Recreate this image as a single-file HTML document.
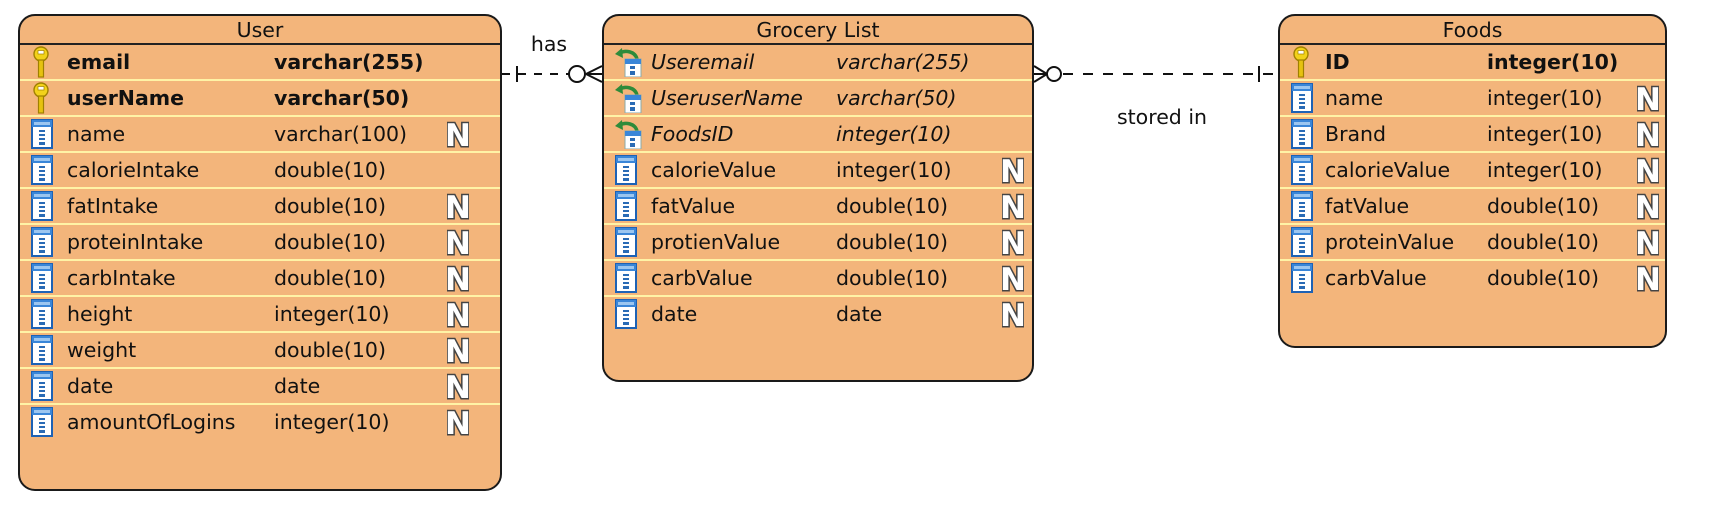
<!DOCTYPE html>
<html><head><meta charset="utf-8">
<style>
html,body{margin:0;padding:0;background:#fff;width:1730px;height:520px;overflow:hidden}
body{font-family:"DejaVu Sans","Liberation Sans",sans-serif;color:#111}
.box{position:absolute;background:#f3b57b;border:2px solid #1a1a1a;border-radius:17px;box-sizing:border-box;overflow:hidden}
.hd{height:27px;border-bottom:2px solid #222;text-align:center;font-size:20.5px;line-height:28px}
.row{position:relative;height:34px;border-bottom:2px solid #fff3a6}
.row.last{border-bottom:none}
.row span{position:absolute;top:0;line-height:34px;font-size:20.5px;white-space:nowrap}
.b span{font-weight:bold}
.i span.t{font-style:italic}
.ic{position:absolute;top:2px}
</style></head><body>
<svg width="0" height="0" style="position:absolute">
<defs>
<symbol id="key" viewBox="0 0 16 32">
<circle cx="8" cy="8" r="7" fill="#f2d21a" stroke="#a08000" stroke-width="1.4"/>
<rect x="5" y="4.5" width="6" height="3.5" fill="#fff" stroke="#a08000" stroke-width="0.7"/>
<rect x="5.5" y="14" width="5" height="17" fill="#e6c20f" stroke="#a08000" stroke-width="1.2"/>
</symbol>
<symbol id="col" viewBox="0 0 22 30">
<rect x="1" y="1" width="20" height="28" fill="#fff" stroke="#1d62b5" stroke-width="2"/>
<rect x="1" y="1" width="20" height="7" fill="#3a86d8"/>
<rect x="3" y="3" width="16" height="3" fill="#9cc6f0"/>
<rect x="8" y="11" width="6" height="2" fill="#2a6bb5"/>
<rect x="8" y="15" width="6" height="2" fill="#2a6bb5"/>
<rect x="8" y="19" width="6" height="2" fill="#2a6bb5"/>
<rect x="8" y="23" width="6" height="3" fill="#2a6bb5"/>
</symbol>
<symbol id="fk" viewBox="0 0 30 30">
<path d="M24 12 C22 4 12 3 7 6" fill="none" stroke="#2e8b3a" stroke-width="3.5"/>
<path d="M2 7 L9 1 L10 11 Z" fill="#2e8b3a"/>
<rect x="12" y="12" width="16" height="18" fill="#fff" stroke="#8aa" stroke-width="1"/>
<rect x="12" y="12" width="16" height="5" fill="#3a86d8"/>
<rect x="17" y="19" width="5" height="3" fill="#2a6bb5"/>
<rect x="17" y="24" width="5" height="4" fill="#2a6bb5"/>
</symbol>
<symbol id="n" viewBox="0 0 22 28">
<text x="11" y="26" text-anchor="middle" font-family="DejaVu Sans" font-weight="bold" font-size="31" fill="#fff" stroke="#444" stroke-width="3" paint-order="stroke">N</text>
</symbol>
</defs>
</svg>

<!-- User -->
<div class="box" style="left:18px;top:14px;width:484px;height:477px">
<div class="hd">User</div>
<div class="row b"><svg class="ic" style="left:13px;top:1px" width="16" height="32"><use href="#key"/></svg><span style="left:47px">email</span><span style="left:254px">varchar(255)</span></div>
<div class="row b"><svg class="ic" style="left:13px;top:1px" width="16" height="32"><use href="#key"/></svg><span style="left:47px">userName</span><span style="left:254px">varchar(50)</span></div>
<div class="row"><svg class="ic" style="left:11px" width="22" height="30"><use href="#col"/></svg><span style="left:47px">name</span><span style="left:254px">varchar(100)</span><svg class="ic" style="left:427px;top:3px" width="22" height="28"><use href="#n"/></svg></div>
<div class="row"><svg class="ic" style="left:11px" width="22" height="30"><use href="#col"/></svg><span style="left:47px">calorieIntake</span><span style="left:254px">double(10)</span></div>
<div class="row"><svg class="ic" style="left:11px" width="22" height="30"><use href="#col"/></svg><span style="left:47px">fatIntake</span><span style="left:254px">double(10)</span><svg class="ic" style="left:427px;top:3px" width="22" height="28"><use href="#n"/></svg></div>
<div class="row"><svg class="ic" style="left:11px" width="22" height="30"><use href="#col"/></svg><span style="left:47px">proteinIntake</span><span style="left:254px">double(10)</span><svg class="ic" style="left:427px;top:3px" width="22" height="28"><use href="#n"/></svg></div>
<div class="row"><svg class="ic" style="left:11px" width="22" height="30"><use href="#col"/></svg><span style="left:47px">carbIntake</span><span style="left:254px">double(10)</span><svg class="ic" style="left:427px;top:3px" width="22" height="28"><use href="#n"/></svg></div>
<div class="row"><svg class="ic" style="left:11px" width="22" height="30"><use href="#col"/></svg><span style="left:47px">height</span><span style="left:254px">integer(10)</span><svg class="ic" style="left:427px;top:3px" width="22" height="28"><use href="#n"/></svg></div>
<div class="row"><svg class="ic" style="left:11px" width="22" height="30"><use href="#col"/></svg><span style="left:47px">weight</span><span style="left:254px">double(10)</span><svg class="ic" style="left:427px;top:3px" width="22" height="28"><use href="#n"/></svg></div>
<div class="row"><svg class="ic" style="left:11px" width="22" height="30"><use href="#col"/></svg><span style="left:47px">date</span><span style="left:254px">date</span><svg class="ic" style="left:427px;top:3px" width="22" height="28"><use href="#n"/></svg></div>
<div class="row last"><svg class="ic" style="left:11px" width="22" height="30"><use href="#col"/></svg><span style="left:47px">amountOfLogins</span><span style="left:254px">integer(10)</span><svg class="ic" style="left:427px;top:3px" width="22" height="28"><use href="#n"/></svg></div>
</div>

<!-- Grocery List -->
<div class="box" style="left:602px;top:14px;width:432px;height:368px">
<div class="hd">Grocery List</div>
<div class="row i"><svg class="ic" style="left:9px" width="30" height="30"><use href="#fk"/></svg><span class="t" style="left:47px">Useremail</span><span class="t" style="left:232px">varchar(255)</span></div>
<div class="row i"><svg class="ic" style="left:9px" width="30" height="30"><use href="#fk"/></svg><span class="t" style="left:47px">UseruserName</span><span class="t" style="left:232px">varchar(50)</span></div>
<div class="row i"><svg class="ic" style="left:9px" width="30" height="30"><use href="#fk"/></svg><span class="t" style="left:47px">FoodsID</span><span class="t" style="left:232px">integer(10)</span></div>
<div class="row"><svg class="ic" style="left:11px" width="22" height="30"><use href="#col"/></svg><span style="left:47px">calorieValue</span><span style="left:232px">integer(10)</span><svg class="ic" style="left:398px;top:3px" width="22" height="28"><use href="#n"/></svg></div>
<div class="row"><svg class="ic" style="left:11px" width="22" height="30"><use href="#col"/></svg><span style="left:47px">fatValue</span><span style="left:232px">double(10)</span><svg class="ic" style="left:398px;top:3px" width="22" height="28"><use href="#n"/></svg></div>
<div class="row"><svg class="ic" style="left:11px" width="22" height="30"><use href="#col"/></svg><span style="left:47px">protienValue</span><span style="left:232px">double(10)</span><svg class="ic" style="left:398px;top:3px" width="22" height="28"><use href="#n"/></svg></div>
<div class="row"><svg class="ic" style="left:11px" width="22" height="30"><use href="#col"/></svg><span style="left:47px">carbValue</span><span style="left:232px">double(10)</span><svg class="ic" style="left:398px;top:3px" width="22" height="28"><use href="#n"/></svg></div>
<div class="row last"><svg class="ic" style="left:11px" width="22" height="30"><use href="#col"/></svg><span style="left:47px">date</span><span style="left:232px">date</span><svg class="ic" style="left:398px;top:3px" width="22" height="28"><use href="#n"/></svg></div>
</div>

<!-- Foods -->
<div class="box" style="left:1278px;top:14px;width:389px;height:334px">
<div class="hd">Foods</div>
<div class="row b"><svg class="ic" style="left:13px;top:1px" width="16" height="32"><use href="#key"/></svg><span style="left:45px">ID</span><span style="left:207px">integer(10)</span></div>
<div class="row"><svg class="ic" style="left:11px" width="22" height="30"><use href="#col"/></svg><span style="left:45px">name</span><span style="left:207px">integer(10)</span><svg class="ic" style="left:357px;top:3px" width="22" height="28"><use href="#n"/></svg></div>
<div class="row"><svg class="ic" style="left:11px" width="22" height="30"><use href="#col"/></svg><span style="left:45px">Brand</span><span style="left:207px">integer(10)</span><svg class="ic" style="left:357px;top:3px" width="22" height="28"><use href="#n"/></svg></div>
<div class="row"><svg class="ic" style="left:11px" width="22" height="30"><use href="#col"/></svg><span style="left:45px">calorieValue</span><span style="left:207px">integer(10)</span><svg class="ic" style="left:357px;top:3px" width="22" height="28"><use href="#n"/></svg></div>
<div class="row"><svg class="ic" style="left:11px" width="22" height="30"><use href="#col"/></svg><span style="left:45px">fatValue</span><span style="left:207px">double(10)</span><svg class="ic" style="left:357px;top:3px" width="22" height="28"><use href="#n"/></svg></div>
<div class="row"><svg class="ic" style="left:11px" width="22" height="30"><use href="#col"/></svg><span style="left:45px">proteinValue</span><span style="left:207px">double(10)</span><svg class="ic" style="left:357px;top:3px" width="22" height="28"><use href="#n"/></svg></div>
<div class="row last"><svg class="ic" style="left:11px" width="22" height="30"><use href="#col"/></svg><span style="left:45px">carbValue</span><span style="left:207px">double(10)</span><svg class="ic" style="left:357px;top:3px" width="22" height="28"><use href="#n"/></svg></div>
</div>

<!-- connectors -->
<svg style="position:absolute;left:0;top:0" width="1730" height="520">
<g stroke="#111" stroke-width="2" fill="none">
<line x1="502" y1="74" x2="569" y2="74" stroke-dasharray="8,8"/>
<line x1="517" y1="66" x2="517" y2="82"/>
<circle cx="577" cy="74" r="8" fill="#fff"/>
<line x1="586" y1="74" x2="602" y2="66"/>
<line x1="586" y1="74" x2="602" y2="74"/>
<line x1="586" y1="74" x2="602" y2="82"/>
<line x1="1034" y1="66" x2="1047" y2="74"/>
<line x1="1034" y1="74" x2="1047" y2="74"/>
<line x1="1034" y1="82" x2="1047" y2="74"/>
<circle cx="1054" cy="74" r="7" fill="#fff"/>
<line x1="1063" y1="74" x2="1278" y2="74" stroke-dasharray="10,10"/>
<line x1="1259" y1="66" x2="1259" y2="82"/>
</g>
<text x="549" y="51" text-anchor="middle" font-family="DejaVu Sans" font-size="20.5" fill="#111">has</text>
<text x="1162" y="124" text-anchor="middle" font-family="DejaVu Sans" font-size="20.5" fill="#111">stored in</text>
</svg>
</body></html>
